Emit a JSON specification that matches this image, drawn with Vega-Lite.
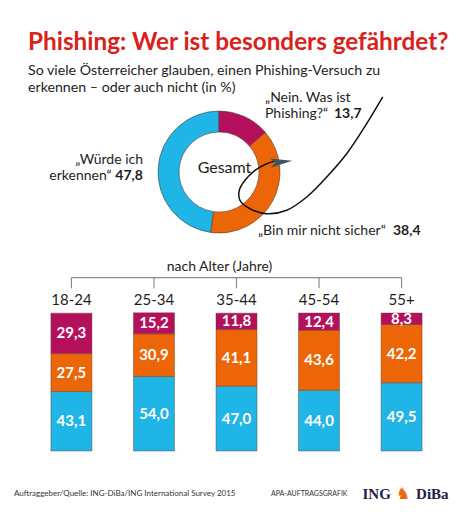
{
  "$schema": "https://vega.github.io/schema/vega-lite/v6.json",
  "description": "Phishing: Wer ist besonders gefährdet? (ING-DiBa Survey 2015)",
  "background": "white",
  "padding": {"left": 8, "top": 30, "right": 0, "bottom": 0},
  "spacing": 18,
  "title": {
    "text": "Phishing: Wer ist besonders gefährdet?",
    "subtitle": ["So viele Österreicher glauben, einen Phishing-Versuch zu", "erkennen – oder auch nicht (in %)"],
    "anchor": "start",
    "frame": "group",
    "dx": 20,
    "offset": -4,
    "font": "Lato",
    "fontSize": 24.3,
    "fontWeight": "bold",
    "color": "#d9221a",
    "subtitleFont": "Lato",
    "subtitleFontSize": 14.2,
    "subtitleColor": "#1e1e1e",
    "subtitlePadding": 9,
    "subtitleLineHeight": 16.5
  },
  "datasets": {
    "gesamt": [
      {"antwort": "Würde ich erkennen", "wert": 47.8},
      {"antwort": "Bin mir nicht sicher", "wert": 38.4},
      {"antwort": "Nein. Was ist Phishing?", "wert": 13.7}
    ],
    "alter": [
      {"alter": "18-24", "antwort": "Würde ich erkennen", "wert": 43.1},
      {"alter": "18-24", "antwort": "Bin mir nicht sicher", "wert": 27.5},
      {"alter": "18-24", "antwort": "Nein. Was ist Phishing?", "wert": 29.3},
      {"alter": "25-34", "antwort": "Würde ich erkennen", "wert": 54.0},
      {"alter": "25-34", "antwort": "Bin mir nicht sicher", "wert": 30.9},
      {"alter": "25-34", "antwort": "Nein. Was ist Phishing?", "wert": 15.2},
      {"alter": "35-44", "antwort": "Würde ich erkennen", "wert": 47.0},
      {"alter": "35-44", "antwort": "Bin mir nicht sicher", "wert": 41.1},
      {"alter": "35-44", "antwort": "Nein. Was ist Phishing?", "wert": 11.8},
      {"alter": "45-54", "antwort": "Würde ich erkennen", "wert": 44.0},
      {"alter": "45-54", "antwort": "Bin mir nicht sicher", "wert": 43.6},
      {"alter": "45-54", "antwort": "Nein. Was ist Phishing?", "wert": 12.4},
      {"alter": "55+", "antwort": "Würde ich erkennen", "wert": 49.5},
      {"alter": "55+", "antwort": "Bin mir nicht sicher", "wert": 42.2},
      {"alter": "55+", "antwort": "Nein. Was ist Phishing?", "wert": 8.3}
    ],
    "haken": [
      {"i": 0, "x": 2.684, "y": 1.23},
      {"i": 1, "x": 2.421, "y": 0.792},
      {"i": 2, "x": 2.093, "y": 0.3},
      {"i": 3, "x": 1.766, "y": -0.082},
      {"i": 4, "x": 1.438, "y": -0.41},
      {"i": 5, "x": 1.11, "y": -0.628},
      {"i": 6, "x": 0.782, "y": -0.684},
      {"i": 7, "x": 0.508, "y": -0.602},
      {"i": 8, "x": 0.344, "y": -0.464},
      {"i": 9, "x": 0.333, "y": -0.3},
      {"i": 10, "x": 0.426, "y": -0.136},
      {"i": 11, "x": 0.59, "y": 0.028},
      {"i": 12, "x": 0.782, "y": 0.136},
      {"i": 13, "x": 0.918, "y": 0.18}
    ]
  },
  "vconcat": [
    {
      "width": 422,
      "height": 140,
      "layer": [
        {
          "data": {"name": "gesamt"},
          "transform": [
            {"calculate": "indexof(['Würde ich erkennen', 'Bin mir nicht sicher', 'Nein. Was ist Phishing?'], datum.antwort)", "as": "rang"}
          ],
          "mark": {"type": "arc", "radius": 61, "radius2": 40, "stroke": "#5a3a30", "strokeWidth": 0.6},
          "encoding": {
            "theta": {"field": "wert", "type": "quantitative", "stack": true},
            "color": {
              "field": "antwort",
              "type": "nominal",
              "scale": {
                "domain": ["Würde ich erkennen", "Bin mir nicht sicher", "Nein. Was ist Phishing?"],
                "range": ["#1fb5e6", "#ec6608", "#b5105c"]
              },
              "legend": null
            },
            "order": {"field": "rang", "sort": "descending"}
          }
        },
        {
          "data": {"name": "haken"},
          "mark": {"type": "line", "color": "#111111", "strokeWidth": 1.5, "interpolate": "catmull-rom"},
          "encoding": {
            "x": {"field": "x", "type": "quantitative", "scale": {"domain": [-3.459, 3.459], "nice": false, "zero": false}, "axis": null},
            "y": {"field": "y", "type": "quantitative", "scale": {"domain": [-1.1475, 1.1475], "nice": false, "zero": false}, "axis": null},
            "order": {"field": "i"}
          }
        },
        {
          "data": {"name": "haken"},
          "transform": [{"filter": "datum.i == 13"}],
          "mark": {"type": "point", "filled": true, "shape": "M -1 -0.42 L 1 0 L -1 0.42 L -0.55 0 Z", "size": 480, "angle": -6, "color": "#3b5561", "opacity": 1},
          "encoding": {
            "x": {"datum": 1.02},
            "y": {"datum": 0.165}
          }
        },
        {
          "data": {"name": "gesamt"},
          "transform": [{"filter": "datum.antwort == 'Würde ich erkennen'"}],
          "mark": {"type": "text", "text": "Gesamt", "fontSize": 16, "color": "#1e1e1e", "baseline": "middle", "align": "center"},
          "encoding": {"x": {"datum": 0.09}, "y": {"datum": 0.06}}
        },
        {
          "data": {"name": "gesamt"},
          "transform": [{"filter": "datum.antwort == 'Nein. Was ist Phishing?'"}],
          "mark": {"type": "text", "text": ["„Nein. Was ist", "Phishing?“"], "fontSize": 14, "lineHeight": 16, "color": "#1e1e1e", "baseline": "alphabetic", "align": "left"},
          "encoding": {"x": {"datum": 0.754}, "y": {"datum": 1.148}}
        },
        {
          "data": {"name": "gesamt"},
          "transform": [{"filter": "datum.antwort == 'Nein. Was ist Phishing?'"}],
          "mark": {"type": "text", "fontSize": 14, "fontWeight": "bold", "color": "#1e1e1e", "baseline": "alphabetic", "align": "left"},
          "encoding": {"x": {"datum": 1.885}, "y": {"datum": 0.885}, "text": {"field": "wert", "type": "quantitative", "format": ".1f"}}
        },
        {
          "data": {"name": "gesamt"},
          "transform": [{"filter": "datum.antwort == 'Würde ich erkennen'"}],
          "mark": {"type": "text", "text": "„Würde ich", "fontSize": 14, "color": "#1e1e1e", "baseline": "alphabetic", "align": "right"},
          "encoding": {"x": {"datum": -1.246}, "y": {"datum": 0.123}}
        },
        {
          "data": {"name": "gesamt"},
          "transform": [{"filter": "datum.antwort == 'Würde ich erkennen'"}],
          "mark": {"type": "text", "text": "erkennen“", "fontSize": 14, "color": "#1e1e1e", "baseline": "alphabetic", "align": "right"},
          "encoding": {"x": {"datum": -1.76}, "y": {"datum": -0.139}}
        },
        {
          "data": {"name": "gesamt"},
          "transform": [{"filter": "datum.antwort == 'Würde ich erkennen'"}],
          "mark": {"type": "text", "fontSize": 14, "fontWeight": "bold", "color": "#1e1e1e", "baseline": "alphabetic", "align": "right"},
          "encoding": {"x": {"datum": -1.246}, "y": {"datum": -0.139}, "text": {"field": "wert", "type": "quantitative", "format": ".1f"}}
        },
        {
          "data": {"name": "gesamt"},
          "transform": [{"filter": "datum.antwort == 'Bin mir nicht sicher'"}],
          "mark": {"type": "text", "text": "„Bin mir nicht sicher“", "fontSize": 14, "color": "#1e1e1e", "baseline": "alphabetic", "align": "left"},
          "encoding": {"x": {"datum": 0.639}, "y": {"datum": -1.033}}
        },
        {
          "data": {"name": "gesamt"},
          "transform": [{"filter": "datum.antwort == 'Bin mir nicht sicher'"}],
          "mark": {"type": "text", "fontSize": 14, "fontWeight": "bold", "color": "#1e1e1e", "baseline": "alphabetic", "align": "left"},
          "encoding": {"x": {"datum": 2.852}, "y": {"datum": -1.033}, "text": {"field": "wert", "type": "quantitative", "format": ".1f"}}
        }
      ]
    },
    {
      "width": 457,
      "height": 138,
      "data": {"name": "alter"},
      "transform": [
        {"calculate": "indexof(['Würde ich erkennen', 'Bin mir nicht sicher', 'Nein. Was ist Phishing?'], datum.antwort)", "as": "rang"},
        {"stack": "wert", "groupby": ["alter"], "sort": [{"field": "rang"}], "as": ["y0", "y1"]},
        {"calculate": "(datum.y0 + datum.y1) / 2", "as": "ymitte"}
      ],
      "encoding": {
        "x": {"field": "alter", "type": "nominal", "sort": null, "scale": {"paddingInner": 0.503, "paddingOuter": 0.52}, "axis": null}
      },
      "layer": [
        {
          "mark": {"type": "bar", "stroke": "#5a3a30", "strokeWidth": 0.6, "strokeOpacity": 0.7},
          "encoding": {
            "y": {"field": "y0", "type": "quantitative", "scale": {"domain": [0, 100], "nice": false}, "axis": null},
            "y2": {"field": "y1"},
            "color": {"field": "antwort", "type": "nominal", "legend": null}
          }
        },
        {
          "mark": {"type": "text", "fontSize": 15, "fontWeight": "bold", "color": "white", "baseline": "middle"},
          "encoding": {
            "y": {"field": "ymitte", "type": "quantitative"},
            "text": {"field": "wert", "type": "quantitative", "format": ".1f"}
          }
        },
        {
          "transform": [{"filter": "datum.rang == 0"}],
          "mark": {"type": "text", "fontSize": 15, "color": "#1e1e1e", "baseline": "middle"},
          "encoding": {"y": {"datum": 109.2}, "text": {"field": "alter"}}
        },
        {
          "transform": [{"filter": "datum.rang == 0"}],
          "mark": {"type": "rule", "color": "#8c8c8c", "strokeWidth": 1.2},
          "encoding": {"y": {"datum": 117.9}, "y2": {"datum": 125.6}}
        },
        {
          "transform": [{"filter": "datum.rang == 0"}],
          "mark": {"type": "line", "color": "#8c8c8c", "strokeWidth": 1.2},
          "encoding": {"y": {"datum": 125.6}}
        },
        {
          "transform": [{"filter": "datum.rang == 0 && datum.alter == '35-44'"}],
          "mark": {"type": "text", "text": "nach Alter (Jahre)", "fontSize": 14, "color": "#1e1e1e", "baseline": "middle", "dx": -17},
          "encoding": {"y": {"datum": 133.3}}
        },
        {
          "transform": [{"filter": "datum.rang == 0 && datum.alter == '18-24'"}],
          "mark": {"type": "text", "text": "Auftraggeber/Quelle: ING-DiBa/ING International Survey 2015", "fontSize": 8, "color": "#333333", "baseline": "middle", "align": "left", "dx": -57.5},
          "encoding": {"y": {"datum": -31}}
        },
        {
          "transform": [{"filter": "datum.rang == 0 && datum.alter == '35-44'"}],
          "mark": {"type": "text", "text": "APA-AUFTRAGSGRAFIK", "fontSize": 7, "color": "#333333", "baseline": "middle", "align": "left", "dx": 34.5},
          "encoding": {"y": {"datum": -31.5}}
        },
        {
          "transform": [{"filter": "datum.rang == 0 && datum.alter == '45-54'"}],
          "mark": {"type": "text", "text": "ING", "font": "Liberation Serif", "fontSize": 15, "fontWeight": "bold", "color": "#1d1d45", "baseline": "middle", "align": "left", "dx": 43.5},
          "encoding": {"y": {"datum": -31}}
        },
        {
          "transform": [{"filter": "datum.rang == 0 && datum.alter == '55+'"}],
          "mark": {"type": "text", "text": "♞", "font": "DejaVu Sans", "fontSize": 16, "color": "#ec6608", "baseline": "middle", "align": "center", "dx": 1.5},
          "encoding": {"y": {"datum": -31}}
        },
        {
          "transform": [{"filter": "datum.rang == 0 && datum.alter == '55+'"}],
          "mark": {"type": "text", "text": "DiBa", "font": "Liberation Serif", "fontSize": 15, "fontWeight": "bold", "color": "#1d1d45", "baseline": "middle", "align": "left", "dx": 14.5},
          "encoding": {"y": {"datum": -31}}
        }
      ]
    }
  ],
  "config": {
    "font": "Lato",
    "view": {"stroke": null},
    "locale": {"number": {"decimal": ",", "thousands": ".", "grouping": [3], "currency": ["", " €"]}}
  }
}
